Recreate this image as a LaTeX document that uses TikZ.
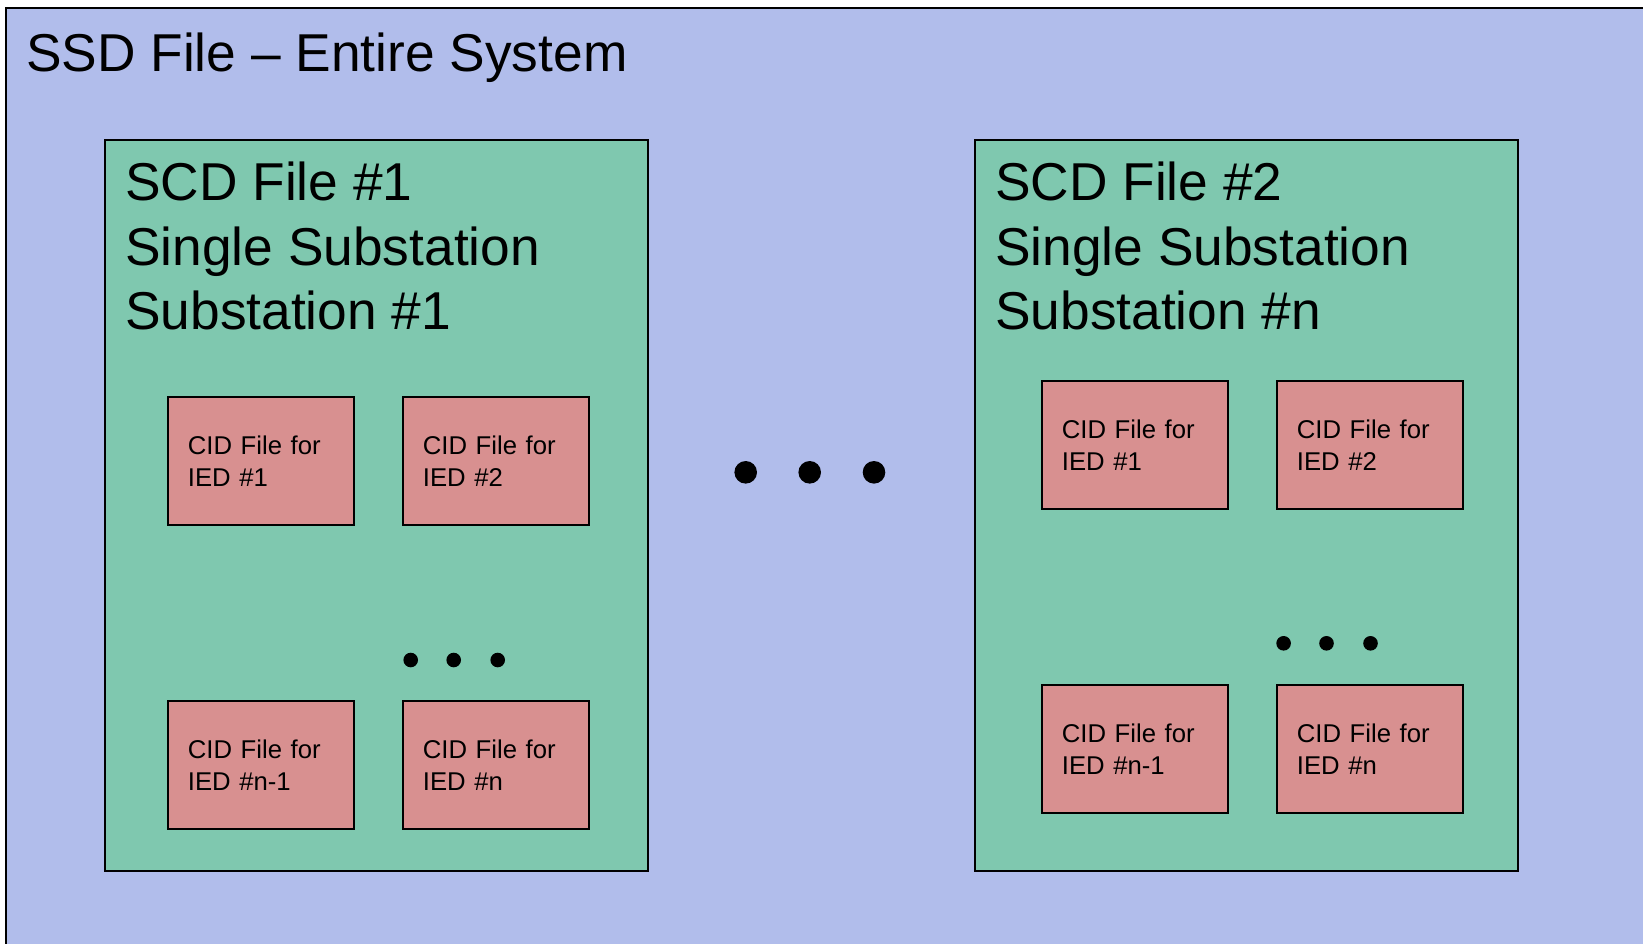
\documentclass[tikz,border=0pt]{standalone}
\usepackage{fontspec}
\setmainfont{Liberation Sans}
\definecolor{ssdblue}{RGB}{177,189,235}
\definecolor{scdgreen}{RGB}{127,200,175}
\definecolor{cidpink}{RGB}{216,144,144}
\begin{document}
\begin{tikzpicture}[x=1pt,y=-1pt,
  ssd/.style={draw,line width=2pt,fill=ssdblue},
  scd/.style={draw,line width=2.2pt,fill=scdgreen,anchor=north west,inner sep=0pt,
    minimum width=543pt,minimum height=731pt},
  big/.style={font=\fontsize{53.3}{64.2}\selectfont,inner sep=0pt,align=left},
  cid/.style={draw,line width=1.8pt,fill=cidpink,anchor=north west,inner sep=0pt,
    minimum width=186pt,minimum height=128pt,text width=146pt,align=left,
    font=\fontsize{25.7}{31.8}\selectfont}]
  \useasboundingbox (0,0) rectangle (1643,943);
  \clip (0,0) rectangle (1643,943);
  \draw[ssd] (6,8) rectangle (1700,1000);
  \node[big,anchor=base west] (ssdtitle) at (26,71) {SSD File -- Entire System};
  % first substation
  \node[scd] (scdA) at (104,139) {};
  \node[big,anchor=north west] (scdAtxt) at (125,162)
    {SCD File \#1\\Single Substation\\Substation \#1};
  \node[cid] (ciA1) at (167,396) {CID File for\\IED \#1};
  \node[cid] (ciA2) at (402,396) {CID File for\\IED \#2};
  \node[cid] (ciA3) at (167,700) {CID File for\\IED \#n-1};
  \node[cid] (ciA4) at (402,700) {CID File for\\IED \#n};
  \foreach \x in {410.7,453.7,497.7}
    \fill (\x,660) circle[radius=7.3pt];
  % middle dots
  \foreach \x in {745.7,809.7,874}
    \fill (\x,472.3) circle[radius=11.3pt];
  % last substation
  \node[scd] (scdB) at (974,139) {};
  \node[big,anchor=north west] (scdBtxt) at (995,162)
    {SCD File \#2\\Single Substation\\Substation \#n};
  \node[cid] (ciB1) at (1041,380) {CID File for\\IED \#1};
  \node[cid] (ciB2) at (1276,380) {CID File for\\IED \#2};
  \node[cid] (ciB3) at (1041,684) {CID File for\\IED \#n-1};
  \node[cid] (ciB4) at (1276,684) {CID File for\\IED \#n};
  \foreach \x in {1283.6,1326.5,1370.5}
    \fill (\x,643.3) circle[radius=7.3pt];
\end{tikzpicture}
\end{document}
